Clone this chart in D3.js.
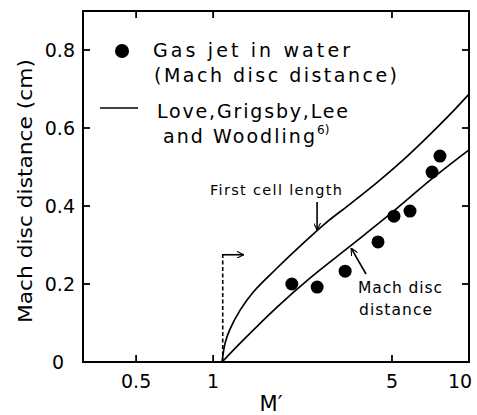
<!DOCTYPE html>
<html>
<head>
<meta charset="utf-8">
<script src="https://d3js.org/d3.v7.min.js"></script>
<style>
  body { margin: 0; background: #fff; }
  text { font-family: "DejaVu Sans", sans-serif; fill: #000; }
</style>
</head>
<body>
<svg id="chart"></svg>
<script>
// data
const xTicks = [0.5, 1, 5, 10];
const xTickLabels = ["0.5", "1", "5", "10"];
const yTicks = [0, 0.2, 0.4, 0.6, 0.8];
const yTickLabels = ["0", "0.2", "0.4", "0.6", "0.8"];

// measured points: gas jet in water (Mach disc distance)
const jetM = [2.03, 2.55, 3.28, 4.41, 5.09, 5.88, 7.17, 7.7];
const jetDist = [0.2, 0.192, 0.233, 0.308, 0.374, 0.387, 0.487, 0.528];

// Love, Grigsby, Lee and Woodling: first cell length
const cellM = [1.084, 1.114, 1.165, 1.275, 1.433, 1.778, 2.187, 2.738, 3.43, 4.295, 5.38, 6.73, 8.43, 10];
const cellLen = [0, 0.049, 0.085, 0.133, 0.179, 0.241, 0.297, 0.355, 0.405, 0.456, 0.511, 0.571, 0.635, 0.687];

// Love, Grigsby, Lee and Woodling: Mach disc distance
const discM = [1.084, 1.31, 1.778, 2.39, 3.43, 4.91, 7.23, 10];
const discDist = [0, 0.056, 0.141, 0.215, 0.297, 0.379, 0.472, 0.544];

const W = 477, H = 415;
const svg = d3.select("#chart").attr("width", W).attr("height", H);

const x = d3.scaleLog().domain([0.31, 10]).range([83, 469]);
const y = d3.scaleLinear().domain([0, 0.9]).range([362, 11]);

const tickLen = 7;

// frame
svg.append("rect")
  .attr("x", x.range()[0]).attr("y", y.range()[1])
  .attr("width", x.range()[1] - x.range()[0])
  .attr("height", y.range()[0] - y.range()[1])
  .attr("fill", "none").attr("stroke", "#000").attr("stroke-width", 2);

// inward ticks on all four sides
const tickG = svg.append("g").attr("stroke", "#000").attr("stroke-width", 1.8);
xTicks.filter(d => d < 10).forEach(d => {
  tickG.append("line").attr("x1", x(d)).attr("x2", x(d))
    .attr("y1", y(0)).attr("y2", y(0) - tickLen);
  tickG.append("line").attr("x1", x(d)).attr("x2", x(d))
    .attr("y1", y.range()[1]).attr("y2", y.range()[1] + tickLen);
});
yTicks.filter(d => d > 0).forEach(d => {
  tickG.append("line").attr("x1", x.range()[0]).attr("x2", x.range()[0] + tickLen)
    .attr("y1", y(d)).attr("y2", y(d));
  tickG.append("line").attr("x1", x.range()[1]).attr("x2", x.range()[1] - tickLen)
    .attr("y1", y(d)).attr("y2", y(d));
});

// tick labels
svg.append("g").selectAll("text").data(xTicks).join("text")
  .attr("x", d => d === 10 ? x(d) - 9 : x(d))
  .attr("y", 388)
  .attr("text-anchor", "middle")
  .attr("font-size", 19)
  .text((d, i) => xTickLabels[i]);

svg.append("g").selectAll("text").data(yTicks).join("text")
  .attr("x", d => d === 0 ? 64 : 75)
  .attr("y", d => y(d) + 7)
  .attr("text-anchor", "end")
  .attr("font-size", 19)
  .text((d, i) => yTickLabels[i]);

// axis titles
svg.append("text")
  .attr("x", 271).attr("y", 411)
  .attr("text-anchor", "middle").attr("font-size", 21)
  .text("M\u2032");

svg.append("text")
  .attr("transform", "translate(32,191) rotate(-90)")
  .attr("text-anchor", "middle").attr("font-size", 20)
  .attr("textLength", 264).attr("lengthAdjust", "spacingAndGlyphs")
  .text("Mach disc distance (cm)");

// curves
const line = d3.line()
  .x(d => x(d[0])).y(d => y(d[1]))
  .curve(d3.curveCatmullRom.alpha(0.5));

svg.append("path")
  .datum(d3.zip(cellM, cellLen))
  .attr("d", line)
  .attr("fill", "none").attr("stroke", "#000").attr("stroke-width", 1.7);

svg.append("path")
  .datum(d3.zip(discM, discDist))
  .attr("d", line)
  .attr("fill", "none").attr("stroke", "#000").attr("stroke-width", 1.7);

// measured points
svg.append("g").selectAll("circle").data(d3.zip(jetM, jetDist)).join("circle")
  .attr("cx", d => x(d[0])).attr("cy", d => y(d[1]))
  .attr("r", 6.5).attr("fill", "#000");

// dashed limit line at M' ~ 1.09 with arrow
svg.append("line")
  .attr("x1", x(1.09)).attr("x2", x(1.09))
  .attr("y1", y(0)).attr("y2", y(0.28))
  .attr("stroke", "#000").attr("stroke-width", 1.6)
  .attr("stroke-dasharray", "4,2.5");

svg.append("defs").append("marker")
  .attr("id", "head").attr("viewBox", "0 0 10 10")
  .attr("refX", 10).attr("refY", 5)
  .attr("markerWidth", 7).attr("markerHeight", 7)
  .attr("markerUnits", "userSpaceOnUse")
  .attr("orient", "auto")
  .append("path").attr("d", "M0,0 L10,5 L0,10")
  .attr("fill", "none").attr("stroke", "#000").attr("stroke-width", 1.6);

svg.append("line")
  .attr("x1", x(1.09)).attr("x2", x(1.09) + 21)
  .attr("y1", y(0.275)).attr("y2", y(0.275))
  .attr("stroke", "#000").attr("stroke-width", 1.6)
  .attr("marker-end", "url(#head)");

// annotation: first cell length
svg.append("text")
  .attr("x", 210).attr("y", 195)
  .attr("font-size", 14.5)
  .attr("textLength", 132).attr("lengthAdjust", "spacing")
  .text("First cell length");

svg.append("line")
  .attr("x1", x(2.548)).attr("x2", x(2.548))
  .attr("y1", 202).attr("y2", y(0.336) - 1)
  .attr("stroke", "#000").attr("stroke-width", 1.6)
  .attr("marker-end", "url(#head)");

// annotation: Mach disc distance
svg.append("text")
  .attr("x", 358).attr("y", 293)
  .attr("font-size", 15.5)
  .attr("textLength", 84).attr("lengthAdjust", "spacing")
  .text("Mach disc");
svg.append("text")
  .attr("x", 359).attr("y", 315)
  .attr("font-size", 15.5)
  .attr("textLength", 73).attr("lengthAdjust", "spacing")
  .text("distance");

svg.append("line")
  .attr("x1", 366).attr("x2", x(3.43) + 1)
  .attr("y1", 274).attr("y2", y(0.297) + 2)
  .attr("stroke", "#000").attr("stroke-width", 1.6)
  .attr("marker-end", "url(#head)");

// legend
svg.append("circle").attr("cx", 122).attr("cy", 51).attr("r", 7).attr("fill", "#000");
svg.append("line").attr("x1", 100).attr("x2", 138).attr("y1", 108).attr("y2", 108)
  .attr("stroke", "#000").attr("stroke-width", 1.7);

const legendRows = [
  { text: "Gas jet in water", x: 153, y: 57, len: 197 },
  { text: "(Mach disc distance)", x: 154, y: 82, len: 243 },
  { text: "Love,Grigsby,Lee", x: 157, y: 118, len: 191 },
  { text: "and Woodling", x: 163, y: 143, len: 152 }
];
svg.append("g").selectAll("text").data(legendRows).join("text")
  .attr("x", d => d.x).attr("y", d => d.y)
  .attr("font-size", 19)
  .attr("textLength", d => d.len).attr("lengthAdjust", "spacing")
  .text(d => d.text);

svg.append("text")
  .attr("x", 317).attr("y", 134)
  .attr("font-size", 12)
  .text("6)");
</script>
</body>
</html>
